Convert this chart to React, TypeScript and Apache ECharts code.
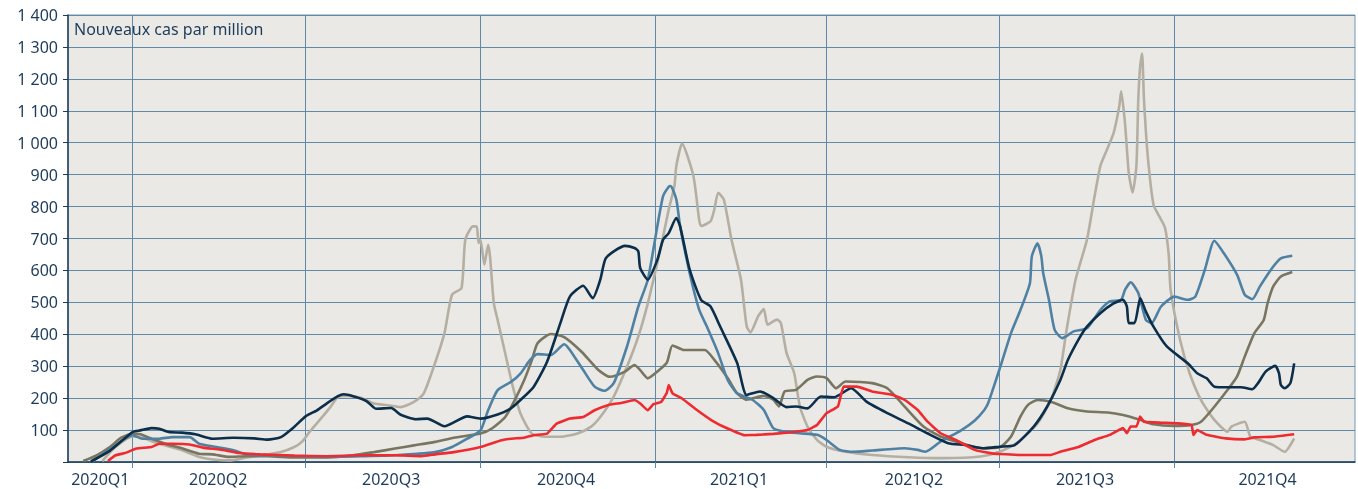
import React, { useEffect, useRef } from "react";
import * as echarts from "echarts";

// Category axis: every day shown on the chart
const START = Date.UTC(2020, 1, 27);
const END = Date.UTC(2022, 0, 4);
const days: string[] = [];
for (let t = START; t <= END; t += 86400000) days.push(new Date(t).toISOString().slice(0, 10));

// Quarter labels placed at the centre of each visible quarter
const quarterLabels: Record<string, string> = {
  "2020-03-15": "2020Q1",
  "2020-05-16": "2020Q2",
  "2020-08-15": "2020Q3",
  "2020-11-15": "2020Q4",
  "2021-02-14": "2021Q1",
  "2021-05-17": "2021Q2",
  "2021-08-15": "2021Q3",
  "2021-11-19": "2021Q4",
};
const quarterStarts = /^202[01]-(01|04|07|10)-01$/;

type Pt = [string, number];

const navy: Pt[] = [
  ["2020-03-10", 2], ["2020-03-20", 35], ["2020-04-01", 94], ["2020-04-05", 99], ["2020-04-11", 106],
  ["2020-04-15", 104], ["2020-04-20", 94], ["2020-04-27", 92], ["2020-05-04", 87], ["2020-05-13", 73],
  ["2020-05-24", 76], ["2020-06-04", 74], ["2020-06-11", 70], ["2020-06-18", 78], ["2020-06-25", 110],
  ["2020-07-01", 143], ["2020-07-07", 162], ["2020-07-12", 183], ["2020-07-18", 206], ["2020-07-21", 212],
  ["2020-07-26", 206], ["2020-08-02", 191], ["2020-08-07", 167], ["2020-08-15", 169], ["2020-08-20", 148],
  ["2020-08-28", 134], ["2020-09-03", 136], ["2020-09-12", 112], ["2020-09-24", 143], ["2020-10-01", 136],
  ["2020-10-10", 149], ["2020-10-17", 168], ["2020-10-22", 194], ["2020-10-29", 236], ["2020-11-05", 314],
  ["2020-11-12", 435], ["2020-11-17", 518], ["2020-11-24", 552], ["2020-11-29", 513], ["2020-12-03", 571],
  ["2020-12-06", 639], ["2020-12-16", 677], ["2020-12-21", 670], ["2020-12-23", 660], ["2020-12-24", 607],
  ["2020-12-28", 571], ["2021-01-02", 633], ["2021-01-05", 696], ["2021-01-08", 717], ["2021-01-12", 764],
  ["2021-01-14", 738], ["2021-01-19", 603], ["2021-01-25", 508], ["2021-01-30", 487], ["2021-02-04", 425],
  ["2021-02-13", 310], ["2021-02-18", 210], ["2021-02-25", 221], ["2021-03-04", 200], ["2021-03-11", 172],
  ["2021-03-16", 174], ["2021-03-22", 168], ["2021-03-29", 205], ["2021-04-05", 203], ["2021-04-14", 231],
  ["2021-04-22", 189], ["2021-05-03", 153], ["2021-05-14", 121], ["2021-05-24", 90], ["2021-06-04", 59],
  ["2021-06-13", 53], ["2021-06-23", 43], ["2021-07-01", 48], ["2021-07-09", 53], ["2021-07-19", 111],
  ["2021-07-26", 173], ["2021-08-02", 257], ["2021-08-06", 320], ["2021-08-12", 388], ["2021-08-16", 424],
  ["2021-08-23", 466], ["2021-08-30", 497], ["2021-09-04", 508], ["2021-09-06", 487], ["2021-09-07", 435],
  ["2021-09-10", 435], ["2021-09-12", 487], ["2021-09-13", 513], ["2021-09-16", 471], ["2021-09-20", 424],
  ["2021-09-27", 362], ["2021-10-08", 309], ["2021-10-13", 278], ["2021-10-18", 262], ["2021-10-22", 236],
  ["2021-10-29", 234], ["2021-11-05", 234], ["2021-11-11", 228], ["2021-11-14", 247], ["2021-11-18", 283],
  ["2021-11-23", 301], ["2021-11-25", 278], ["2021-11-26", 241], ["2021-11-28", 231], ["2021-12-01", 247],
  ["2021-12-03", 309],
];

const steel: Pt[] = [
  ["2020-03-11", 2], ["2020-03-20", 40], ["2020-04-01", 84], ["2020-04-06", 73], ["2020-04-15", 73],
  ["2020-04-22", 78], ["2020-05-01", 78], ["2020-05-06", 57], ["2020-05-15", 47], ["2020-05-24", 37],
  ["2020-05-31", 24], ["2020-06-11", 21], ["2020-06-25", 18], ["2020-07-12", 16], ["2020-07-30", 18],
  ["2020-08-17", 21], ["2020-09-07", 31], ["2020-09-16", 47], ["2020-09-24", 73], ["2020-10-01", 99],
  ["2020-10-05", 162], ["2020-10-10", 225], ["2020-10-17", 251], ["2020-10-22", 277], ["2020-10-27", 319],
  ["2020-10-31", 338], ["2020-11-07", 335], ["2020-11-14", 369], ["2020-11-17", 351], ["2020-11-24", 288],
  ["2020-11-30", 236], ["2020-12-05", 223], ["2020-12-10", 246], ["2020-12-17", 361], ["2020-12-23", 487],
  ["2020-12-28", 571], ["2021-01-02", 738], ["2021-01-05", 832], ["2021-01-08", 862], ["2021-01-09", 864],
  ["2021-01-12", 822], ["2021-01-14", 738], ["2021-01-19", 592], ["2021-01-24", 477], ["2021-01-28", 425],
  ["2021-02-03", 341], ["2021-02-08", 257], ["2021-02-13", 215], ["2021-02-21", 195], ["2021-02-27", 163],
  ["2021-03-04", 106], ["2021-03-10", 95], ["2021-03-18", 90], ["2021-03-27", 85], ["2021-04-01", 69],
  ["2021-04-08", 38], ["2021-04-15", 32], ["2021-04-25", 36], ["2021-05-12", 43], ["2021-05-19", 38],
  ["2021-05-23", 32], ["2021-05-31", 64], ["2021-06-11", 100], ["2021-06-18", 130], ["2021-06-23", 163],
  ["2021-06-25", 184], ["2021-06-28", 236], ["2021-07-02", 309], ["2021-07-07", 403], ["2021-07-12", 476],
  ["2021-07-17", 560], ["2021-07-18", 644], ["2021-07-21", 685], ["2021-07-23", 644], ["2021-07-24", 591],
  ["2021-07-27", 508], ["2021-07-30", 414], ["2021-08-03", 388], ["2021-08-09", 409], ["2021-08-16", 419],
  ["2021-08-23", 476], ["2021-08-28", 503], ["2021-09-03", 508], ["2021-09-05", 539], ["2021-09-08", 563],
  ["2021-09-12", 529], ["2021-09-16", 445], ["2021-09-19", 435], ["2021-09-24", 487], ["2021-10-01", 518],
  ["2021-10-08", 508], ["2021-10-12", 518], ["2021-10-17", 602], ["2021-10-22", 693], ["2021-10-27", 654],
  ["2021-11-03", 586], ["2021-11-07", 524], ["2021-11-11", 510], ["2021-11-15", 550], ["2021-11-22", 612],
  ["2021-11-26", 638], ["2021-12-02", 646],
];

const olive: Pt[] = [
  ["2020-03-06", 3], ["2020-03-13", 21], ["2020-03-20", 47], ["2020-03-26", 76], ["2020-04-01", 89],
  ["2020-04-05", 87], ["2020-04-11", 73], ["2020-04-19", 55], ["2020-04-26", 45], ["2020-05-06", 26],
  ["2020-05-13", 24], ["2020-05-22", 16], ["2020-05-31", 18], ["2020-06-11", 18], ["2020-06-25", 14],
  ["2020-07-12", 14], ["2020-07-26", 21], ["2020-08-06", 31], ["2020-08-17", 42], ["2020-08-27", 52],
  ["2020-09-07", 63], ["2020-09-17", 76], ["2020-10-01", 89], ["2020-10-07", 105], ["2020-10-14", 141],
  ["2020-10-19", 194], ["2020-10-24", 257], ["2020-10-28", 319], ["2020-10-31", 372], ["2020-11-07", 401],
  ["2020-11-14", 391], ["2020-11-23", 346], ["2020-12-02", 288], ["2020-12-08", 267], ["2020-12-16", 283],
  ["2020-12-21", 304], ["2020-12-24", 288], ["2020-12-28", 262], ["2021-01-03", 288], ["2021-01-07", 311],
  ["2021-01-10", 365], ["2021-01-16", 351], ["2021-01-27", 351], ["2021-02-01", 320], ["2021-02-08", 263],
  ["2021-02-13", 215], ["2021-02-18", 195], ["2021-02-27", 207], ["2021-03-04", 195], ["2021-03-07", 174],
  ["2021-03-10", 221], ["2021-03-16", 226], ["2021-03-22", 257], ["2021-03-27", 268], ["2021-04-01", 263],
  ["2021-04-06", 231], ["2021-04-11", 252], ["2021-04-25", 247], ["2021-05-03", 231], ["2021-05-12", 174],
  ["2021-05-22", 111], ["2021-05-31", 80], ["2021-06-11", 59], ["2021-06-21", 43], ["2021-07-01", 46],
  ["2021-07-07", 79], ["2021-07-12", 142], ["2021-07-16", 179], ["2021-07-21", 194], ["2021-07-28", 189],
  ["2021-08-06", 168], ["2021-08-16", 158], ["2021-08-27", 155], ["2021-09-04", 147], ["2021-09-13", 132],
  ["2021-09-20", 118], ["2021-10-01", 113], ["2021-10-10", 116], ["2021-10-15", 126], ["2021-10-22", 173],
  ["2021-10-29", 226], ["2021-11-03", 268], ["2021-11-07", 330], ["2021-11-12", 403], ["2021-11-17", 445],
  ["2021-11-19", 497], ["2021-11-22", 550], ["2021-11-26", 581], ["2021-12-02", 595],
];

const beige: Pt[] = [
  ["2020-03-16", 3], ["2020-03-23", 47], ["2020-04-01", 80], ["2020-04-06", 76], ["2020-04-15", 57],
  ["2020-04-26", 39], ["2020-05-06", 16], ["2020-05-15", 7], ["2020-05-22", 5], ["2020-05-31", 14],
  ["2020-06-11", 24], ["2020-06-18", 31], ["2020-06-25", 47], ["2020-06-29", 63], ["2020-07-03", 94],
  ["2020-07-09", 136], ["2020-07-14", 172], ["2020-07-18", 204], ["2020-07-23", 207], ["2020-07-30", 201],
  ["2020-08-06", 183], ["2020-08-13", 178], ["2020-08-20", 172], ["2020-08-27", 188], ["2020-09-01", 213],
  ["2020-09-07", 309], ["2020-09-12", 403], ["2020-09-16", 524], ["2020-09-21", 545], ["2020-09-23", 696],
  ["2020-09-27", 738], ["2020-09-29", 738], ["2020-09-30", 686], ["2020-10-01", 696], ["2020-10-03", 618],
  ["2020-10-05", 680], ["2020-10-06", 644], ["2020-10-08", 497], ["2020-10-10", 445], ["2020-10-14", 340],
  ["2020-10-18", 236], ["2020-10-22", 152], ["2020-10-28", 89], ["2020-11-04", 79], ["2020-11-12", 79],
  ["2020-11-21", 89], ["2020-11-28", 110], ["2020-12-03", 141], ["2020-12-10", 204], ["2020-12-17", 298],
  ["2020-12-23", 393], ["2020-12-28", 497], ["2021-01-02", 623], ["2021-01-04", 676], ["2021-01-08", 791],
  ["2021-01-11", 864], ["2021-01-12", 927], ["2021-01-15", 997], ["2021-01-21", 895], ["2021-01-24", 759],
  ["2021-01-25", 739], ["2021-01-30", 754], ["2021-02-01", 791], ["2021-02-03", 843], ["2021-02-06", 822],
  ["2021-02-10", 697], ["2021-02-15", 571], ["2021-02-18", 425], ["2021-02-20", 406], ["2021-02-24", 456],
  ["2021-02-27", 479], ["2021-03-01", 430], ["2021-03-06", 446], ["2021-03-08", 435], ["2021-03-11", 341],
  ["2021-03-15", 278], ["2021-03-18", 174], ["2021-03-22", 111], ["2021-03-27", 69], ["2021-04-01", 48],
  ["2021-04-11", 32], ["2021-04-25", 22], ["2021-05-14", 15], ["2021-06-01", 12], ["2021-06-21", 17],
  ["2021-07-01", 32], ["2021-07-10", 59], ["2021-07-21", 121], ["2021-07-28", 194], ["2021-08-02", 288],
  ["2021-08-05", 403], ["2021-08-10", 571], ["2021-08-16", 696], ["2021-08-20", 832], ["2021-08-23", 926],
  ["2021-08-25", 957], ["2021-08-30", 1030], ["2021-09-02", 1114], ["2021-09-03", 1161], ["2021-09-05", 1062],
  ["2021-09-07", 905], ["2021-09-09", 844], ["2021-09-11", 926], ["2021-09-12", 1135], ["2021-09-13", 1240],
  ["2021-09-14", 1279], ["2021-09-15", 1135], ["2021-09-17", 957], ["2021-09-20", 806], ["2021-09-23", 770],
  ["2021-09-26", 735], ["2021-09-28", 650], ["2021-09-29", 539], ["2021-10-04", 382], ["2021-10-09", 278],
  ["2021-10-15", 194], ["2021-10-22", 132], ["2021-10-29", 95], ["2021-10-31", 111], ["2021-11-07", 126],
  ["2021-11-10", 79], ["2021-11-15", 69], ["2021-11-22", 53], ["2021-11-28", 32], ["2021-12-03", 74],
];

const red: Pt[] = [
  ["2020-03-19", 3], ["2020-03-23", 21], ["2020-03-28", 28], ["2020-04-03", 42], ["2020-04-11", 47],
  ["2020-04-15", 57], ["2020-04-22", 57], ["2020-05-01", 55], ["2020-05-08", 45], ["2020-05-17", 39],
  ["2020-05-27", 28], ["2020-06-07", 24], ["2020-06-25", 20], ["2020-07-12", 18], ["2020-07-30", 21],
  ["2020-08-17", 21], ["2020-08-31", 18], ["2020-09-07", 24], ["2020-09-17", 31], ["2020-10-01", 47],
  ["2020-10-12", 68], ["2020-10-17", 73], ["2020-10-24", 76], ["2020-10-29", 84], ["2020-11-05", 89],
  ["2020-11-10", 120], ["2020-11-17", 136], ["2020-11-24", 141], ["2020-11-30", 162], ["2020-12-07", 178],
  ["2020-12-14", 185], ["2020-12-21", 194], ["2020-12-24", 183], ["2020-12-28", 162], ["2020-12-31", 181],
  ["2021-01-04", 188], ["2021-01-07", 217], ["2021-01-08", 241], ["2021-01-10", 215], ["2021-01-15", 199],
  ["2021-01-23", 162], ["2021-01-31", 129], ["2021-02-08", 105], ["2021-02-17", 84], ["2021-02-23", 85],
  ["2021-03-04", 88], ["2021-03-15", 94], ["2021-03-22", 100], ["2021-03-27", 116], ["2021-04-01", 153],
  ["2021-04-07", 174], ["2021-04-10", 236], ["2021-04-17", 236], ["2021-04-25", 221], ["2021-05-06", 210],
  ["2021-05-12", 195], ["2021-05-19", 163], ["2021-05-24", 127], ["2021-05-31", 90], ["2021-06-08", 69],
  ["2021-06-18", 38], ["2021-06-27", 27], ["2021-07-01", 25], ["2021-07-12", 22], ["2021-07-28", 22],
  ["2021-08-02", 32], ["2021-08-11", 46], ["2021-08-20", 69], ["2021-08-28", 85], ["2021-09-04", 106],
  ["2021-09-06", 90], ["2021-09-08", 111], ["2021-09-11", 111], ["2021-09-13", 142], ["2021-09-15", 126],
  ["2021-09-24", 123], ["2021-10-03", 121], ["2021-10-10", 116], ["2021-10-11", 85], ["2021-10-13", 100],
  ["2021-10-18", 85], ["2021-10-28", 74], ["2021-11-07", 71], ["2021-11-12", 77], ["2021-11-22", 79],
  ["2021-12-03", 87],
];

const TEXT = "#1d3c5a";
const GRID = "#5e89a8";
const FONT = "'Noto Sans', sans-serif";

export default function App() {
  const ref = useRef<HTMLDivElement>(null);
  useEffect(() => {
    if (!ref.current) return;
    const chart = echarts.init(ref.current, undefined, { renderer: "svg" });
    const mk = (name: string, data: Pt[], color: string, smooth: number | boolean) => ({
      name,
      type: "line",
      data,
      showSymbol: false,
      smooth,
      lineStyle: { color, width: 2.6 },
      itemStyle: { color },
      silent: true,
    });
    chart.setOption({
      animation: false,
      textStyle: { fontFamily: FONT },
      title: {
        text: "Nouveaux cas par million",
        left: 69,
        top: 16,
        textStyle: { fontSize: 16, fontWeight: "normal", color: TEXT, fontFamily: FONT },
      },
      grid: {
        left: 68, right: 3, top: 15, bottom: 27,
        show: true, backgroundColor: "#ebe9e5", borderColor: "#7097b2", borderWidth: 1,
      },
      xAxis: {
        type: "category",
        data: days,
        boundaryGap: false,
        axisLine: { lineStyle: { color: TEXT, width: 1.5 } },
        axisTick: {
          show: true, length: 6,
          interval: (_i: number, v: string) => quarterStarts.test(v),
          lineStyle: { color: GRID },
        },
        axisLabel: {
          interval: (_i: number, v: string) => v in quarterLabels,
          formatter: (v: string) => quarterLabels[v] || "",
          margin: 9, fontSize: 16, color: TEXT, fontFamily: FONT,
        },
        splitLine: {
          show: true,
          interval: (_i: number, v: string) => quarterStarts.test(v),
          lineStyle: { color: GRID, width: 1 },
        },
      },
      yAxis: {
        type: "value",
        min: 0, max: 1400, interval: 100,
        axisLine: { show: true, lineStyle: { color: TEXT, width: 1.5 } },
        axisTick: { show: true, length: 5, lineStyle: { color: TEXT } },
        axisLabel: {
          margin: 10, fontSize: 16, color: TEXT, fontFamily: FONT,
          formatter: (v: number) =>
            v === 0 ? "" : v >= 1000 ? `${Math.floor(v / 1000)} ${String(v % 1000).padStart(3, "0")}` : String(v),
        },
        splitLine: { show: true, lineStyle: { color: GRID, width: 1 } },
      },
      series: [
        mk("beige", beige, "#b4afa2", 0.2),
        mk("olive", olive, "#787560", 0.2),
        mk("steel", steel, "#4f81a3", 0.2),
        mk("navy", navy, "#0b2e4a", 0.2),
        mk("red", red, "#ee2b30", 0.1),
      ],
    });
    return () => chart.dispose();
  }, []);
  return <div ref={ref} style={{ position: "fixed", left: 0, top: 0, width: 1358, height: 489 }} />;
}
